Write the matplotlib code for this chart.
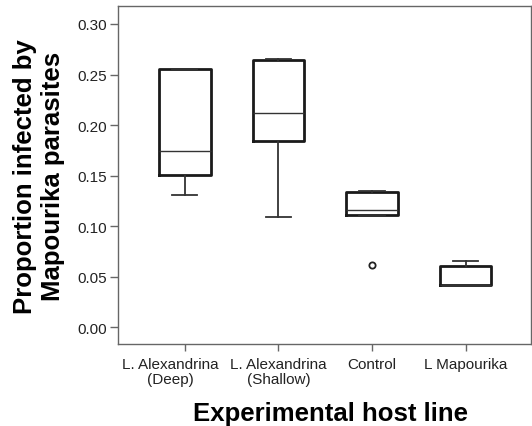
import matplotlib
matplotlib.use("Agg")
import matplotlib.pyplot as plt
import matplotlib.transforms as mtransforms

plt.rcParams['font.family'] = ['Liberation Sans', 'DejaVu Sans']

categories = ["L. Alexandrina\n(Deep)", "L. Alexandrina\n(Shallow)", "Control", "L Mapourika"]
q1 = [0.1507, 0.1840, 0.1114, 0.0419]
med = [0.1744, 0.2120, 0.1157, 0.0419]
q3 = [0.2555, 0.2648, 0.1342, 0.0603]
whislo = [0.1309, 0.1091, 0.1114, 0.0419]
whishi = [0.2555, 0.2654, 0.1350, 0.0656]
fliers = [[], [], [0.0613], []]
yticks = [0.00, 0.05, 0.10, 0.15, 0.20, 0.25, 0.30]

stats = []
for i in range(len(categories)):
    stats.append(dict(q1=q1[i], med=med[i], q3=q3[i], whislo=whislo[i],
                      whishi=whishi[i], fliers=fliers[i], label=categories[i]))

fig = plt.figure(figsize=(5.32, 4.27), dpi=100)
ax = fig.add_axes([0.2224, 0.192, 0.776, 0.791])

ax.bxp(stats, positions=[1, 2, 3, 4], widths=0.55, showfliers=True,
       boxprops=dict(color='#1a1a1a', linewidth=2.0),
       medianprops=dict(color='#333333', linewidth=1.0),
       whiskerprops=dict(color='#333333', linewidth=1.3),
       capprops=dict(color='#333333', linewidth=1.3),
       capwidths=0.27,
       flierprops=dict(marker='o', markersize=4.5, markerfacecolor='white',
                       markeredgecolor='#222222', markeredgewidth=1.3))

ax.set_xlim(0.29, 4.7)
ax.set_ylim(-0.0165, 0.3175)
ax.set_yticks(yticks)
ax.set_yticklabels([f"{v:.2f}" for v in yticks])
ax.tick_params(axis='y', length=6, width=1, color='#666666', pad=2, labelsize=11, labelcolor='#222222')
ax.tick_params(axis='x', length=5, width=1, color='#666666', pad=4, labelsize=11, labelcolor='#222222')
xlabels = ax.get_xticklabels()
for lbl in xlabels:
    lbl.set_linespacing(1.1)
shift = mtransforms.ScaledTranslation(-14 / 100, 0, fig.dpi_scale_trans)
xlabels[0].set_transform(xlabels[0].get_transform() + shift)
for s in ax.spines.values():
    s.set_color('#666666')
    s.set_linewidth(1.0)

ax.set_ylabel("Proportion infected by\nMapourika parasites", fontsize=18.5, fontweight='bold', labelpad=9, linespacing=1.2)
ax.set_xlabel("Experimental host line", fontsize=18.5, fontweight='bold', labelpad=11)
ax.xaxis.label.set_x(0.513)

fig.savefig("out.png", dpi=100)
